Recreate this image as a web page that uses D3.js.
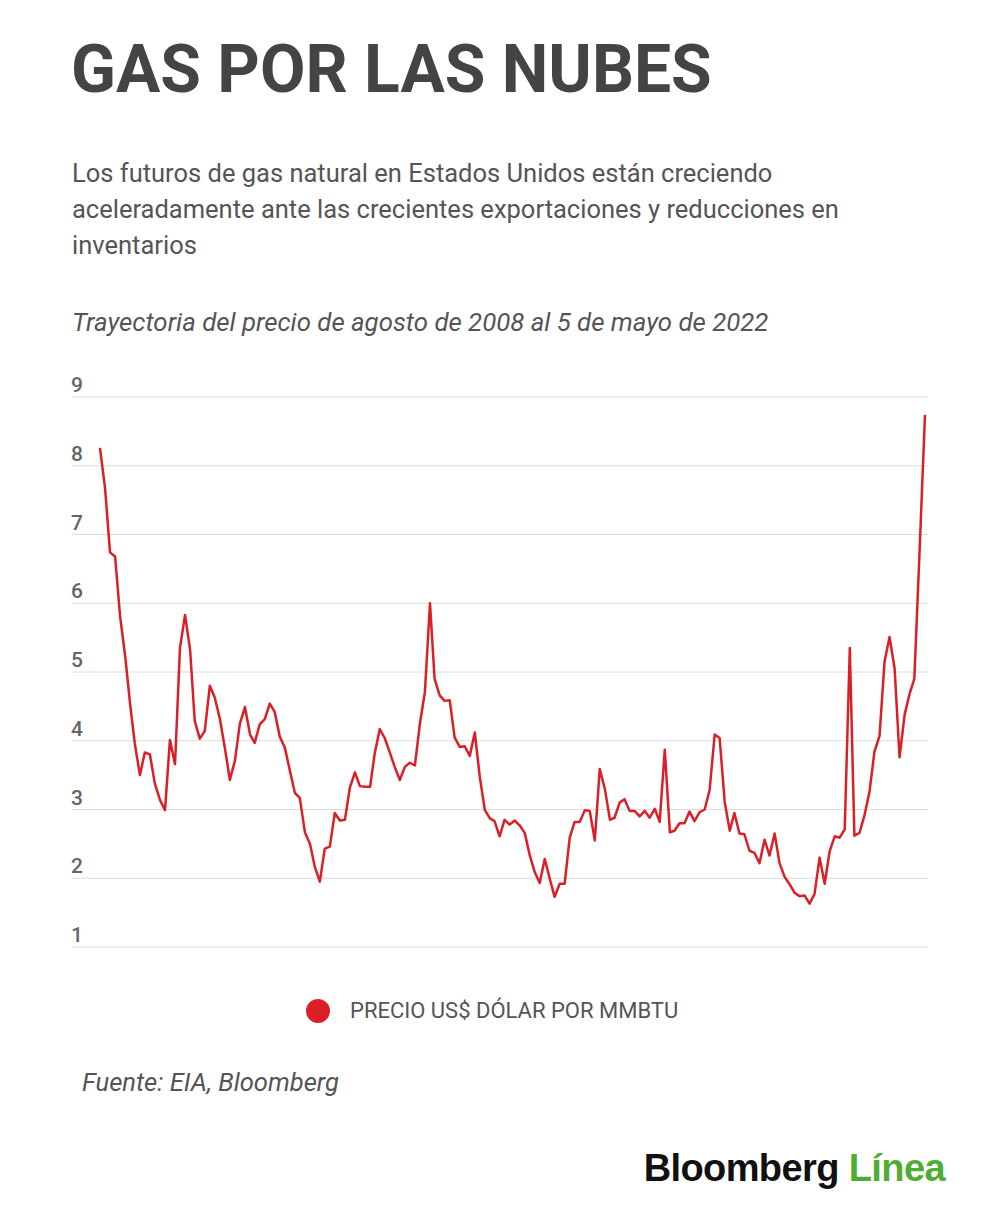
<!DOCTYPE html>
<html>
<head>
<meta charset="utf-8">
<script src="https://cdn.jsdelivr.net/npm/d3@7"></script>
<style>
  body { margin: 0; background: #fff; }
  text { font-family: Roboto, "Noto Sans", sans-serif; }
</style>
</head>
<body>
<div id="chart"></div>
<script>
// monthly prices, Aug 2008 .. Apr 2022, last point is 5 May 2022
var months = [
  "2008-08","2008-09","2008-10","2008-11","2008-12",
  "2009-01","2009-02","2009-03","2009-04","2009-05","2009-06","2009-07","2009-08","2009-09","2009-10","2009-11","2009-12",
  "2010-01","2010-02","2010-03","2010-04","2010-05","2010-06","2010-07","2010-08","2010-09","2010-10","2010-11","2010-12",
  "2011-01","2011-02","2011-03","2011-04","2011-05","2011-06","2011-07","2011-08","2011-09","2011-10","2011-11","2011-12",
  "2012-01","2012-02","2012-03","2012-04","2012-05","2012-06","2012-07","2012-08","2012-09","2012-10","2012-11","2012-12",
  "2013-01","2013-02","2013-03","2013-04","2013-05","2013-06","2013-07","2013-08","2013-09","2013-10","2013-11","2013-12",
  "2014-01","2014-02","2014-03","2014-04","2014-05","2014-06","2014-07","2014-08","2014-09","2014-10","2014-11","2014-12",
  "2015-01","2015-02","2015-03","2015-04","2015-05","2015-06","2015-07","2015-08","2015-09","2015-10","2015-11","2015-12",
  "2016-01","2016-02","2016-03","2016-04","2016-05","2016-06","2016-07","2016-08","2016-09","2016-10","2016-11","2016-12",
  "2017-01","2017-02","2017-03","2017-04","2017-05","2017-06","2017-07","2017-08","2017-09","2017-10","2017-11","2017-12",
  "2018-01","2018-02","2018-03","2018-04","2018-05","2018-06","2018-07","2018-08","2018-09","2018-10","2018-11","2018-12",
  "2019-01","2019-02","2019-03","2019-04","2019-05","2019-06","2019-07","2019-08","2019-09","2019-10","2019-11","2019-12",
  "2020-01","2020-02","2020-03","2020-04","2020-05","2020-06","2020-07","2020-08","2020-09","2020-10","2020-11","2020-12",
  "2021-01","2021-02","2021-03","2021-04","2021-05","2021-06","2021-07","2021-08","2021-09","2021-10","2021-11","2021-12",
  "2022-01","2022-02","2022-03","2022-04","2022-05-05"
];

var prices = [
  8.26, 7.67, 6.74, 6.68, 5.82,
  5.24, 4.52, 3.96, 3.50, 3.83, 3.80, 3.38, 3.14, 2.99, 4.01, 3.66, 5.35,
  5.83, 5.32, 4.29, 4.03, 4.14, 4.80, 4.63, 4.32, 3.89, 3.43, 3.71, 4.25,
  4.49, 4.09, 3.97, 4.24, 4.31, 4.54, 4.42, 4.06, 3.90, 3.57, 3.24, 3.17,
  2.67, 2.50, 2.17, 1.95, 2.43, 2.46, 2.95, 2.84, 2.85, 3.32, 3.54, 3.34,
  3.33, 3.33, 3.81, 4.17, 4.04, 3.83, 3.62, 3.43, 3.62, 3.68, 3.64, 4.24,
  4.71, 6.00, 4.90, 4.66, 4.58, 4.59, 4.05, 3.91, 3.92, 3.78, 4.12, 3.48,
  2.99, 2.87, 2.83, 2.61, 2.85, 2.78, 2.84, 2.77, 2.66, 2.34, 2.09, 1.93,
  2.28, 1.99, 1.73, 1.92, 1.92, 2.59, 2.82, 2.82, 2.99, 2.98, 2.55, 3.59,
  3.30, 2.85, 2.88, 3.10, 3.15, 2.98, 2.98, 2.90, 2.98, 2.88, 3.01, 2.82,
  3.87, 2.67, 2.69, 2.80, 2.80, 2.97, 2.83, 2.96, 3.00, 3.28, 4.09, 4.04,
  3.11, 2.69, 2.95, 2.65, 2.64, 2.40, 2.37, 2.22, 2.56, 2.33, 2.65, 2.22,
  2.02, 1.91, 1.79, 1.74, 1.75, 1.63, 1.77, 2.30, 1.92, 2.39, 2.61, 2.59,
  2.71, 5.35, 2.62, 2.66, 2.91, 3.26, 3.84, 4.07, 5.16, 5.51, 5.05, 3.76,
  4.38, 4.69, 4.90, 6.70, 8.74
];

var yTicks = [1, 2, 3, 4, 5, 6, 7, 8, 9];

var title = "GAS POR LAS NUBES";
var subtitle = [
  "Los futuros de gas natural en Estados Unidos están creciendo",
  "aceleradamente ante las crecientes exportaciones y reducciones en",
  "inventarios"
];
var note = "Trayectoria del precio de agosto de 2008 al 5 de mayo de 2022";
var seriesName = "PRECIO US$ DÓLAR POR MMBTU";
var source = "Fuente: EIA, Bloomberg";

var parseMonth = d3.timeParse("%Y-%m");
var parseDay = d3.timeParse("%Y-%m-%d");

var data = months.map(function(m, i) {
  return { date: parseMonth(m) || parseDay(m), value: prices[i] };
});

drawchart(data);

function drawchart(data) {
  var svg = d3.select('#chart').append('svg')
    .attr('width', 1000)
    .attr('height', 1220);

  // header
  svg.append('text')
    .attr('x', 71).attr('y', 92)
    .attr('fill', '#444')
    .style('font-size', '66px')
    .style('font-weight', 700)
    .text(title);

  svg.selectAll('.sub')
    .data(subtitle)
    .enter()
    .append('text')
    .attr('class', 'sub')
    .attr('x', 72)
    .attr('y', function(d, i) { return 182 + i * 36; })
    .attr('fill', '#555')
    .style('font-size', '25.5px')
    .text(function(d) { return d; });

  svg.append('text')
    .attr('x', 72).attr('y', 331)
    .attr('fill', '#555')
    .style('font-size', '25.8px')
    .style('font-style', 'italic')
    .text(note);

  var x = d3.scaleTime()
    .domain([data[0].date, data[data.length - 1].date])
    .range([100, 925]);

  var y = d3.scaleLinear()
    .domain([1, 9])
    .range([947, 397]);

  var grid = svg.append('g');
  grid.selectAll('line')
    .data(yTicks)
    .enter()
    .append('line')
    .attr('x1', 72).attr('x2', 928)
    .attr('y1', function(d) { return y(d); })
    .attr('y2', function(d) { return y(d); })
    .attr('stroke', '#dcdcdc')
    .attr('stroke-width', 1);

  grid.selectAll('text')
    .data(yTicks)
    .enter()
    .append('text')
    .attr('x', 71)
    .attr('y', function(d) { return y(d) - 5; })
    .attr('fill', '#666')
    .style('font-size', '21px')
    .style('font-weight', 500)
    .text(function(d) { return d; });

  var line = d3.line()
    .x(function(d) { return x(d.date); })
    .y(function(d) { return y(d.value); });

  svg.append('path')
    .datum(data)
    .attr('d', line)
    .attr('fill', 'none')
    .attr('stroke', '#dc1f26')
    .attr('stroke-width', 2.5)
    .attr('stroke-linejoin', 'round');

  // legend
  svg.append('circle')
    .attr('cx', 318).attr('cy', 1011)
    .attr('r', 12)
    .attr('fill', '#dc1f26');

  svg.append('text')
    .attr('x', 350).attr('y', 1018)
    .attr('fill', '#555')
    .style('font-size', '22px')
    .text(seriesName);

  svg.append('text')
    .attr('x', 82).attr('y', 1091)
    .attr('fill', '#555')
    .style('font-size', '25.6px')
    .style('font-style', 'italic')
    .text(source);

  // logo
  var logo = svg.append('text')
    .attr('x', 945).attr('y', 1181)
    .attr('text-anchor', 'end')
    .style('font-family', '"Liberation Sans", Arial, sans-serif')
    .style('font-size', '38px')
    .style('font-weight', 700)
    .style('letter-spacing', '-0.6px');
  logo.append('tspan').attr('fill', '#111').text('Bloomberg ');
  logo.append('tspan').attr('fill', '#4fae32').text('Línea');
}
</script>
</body>
</html>
